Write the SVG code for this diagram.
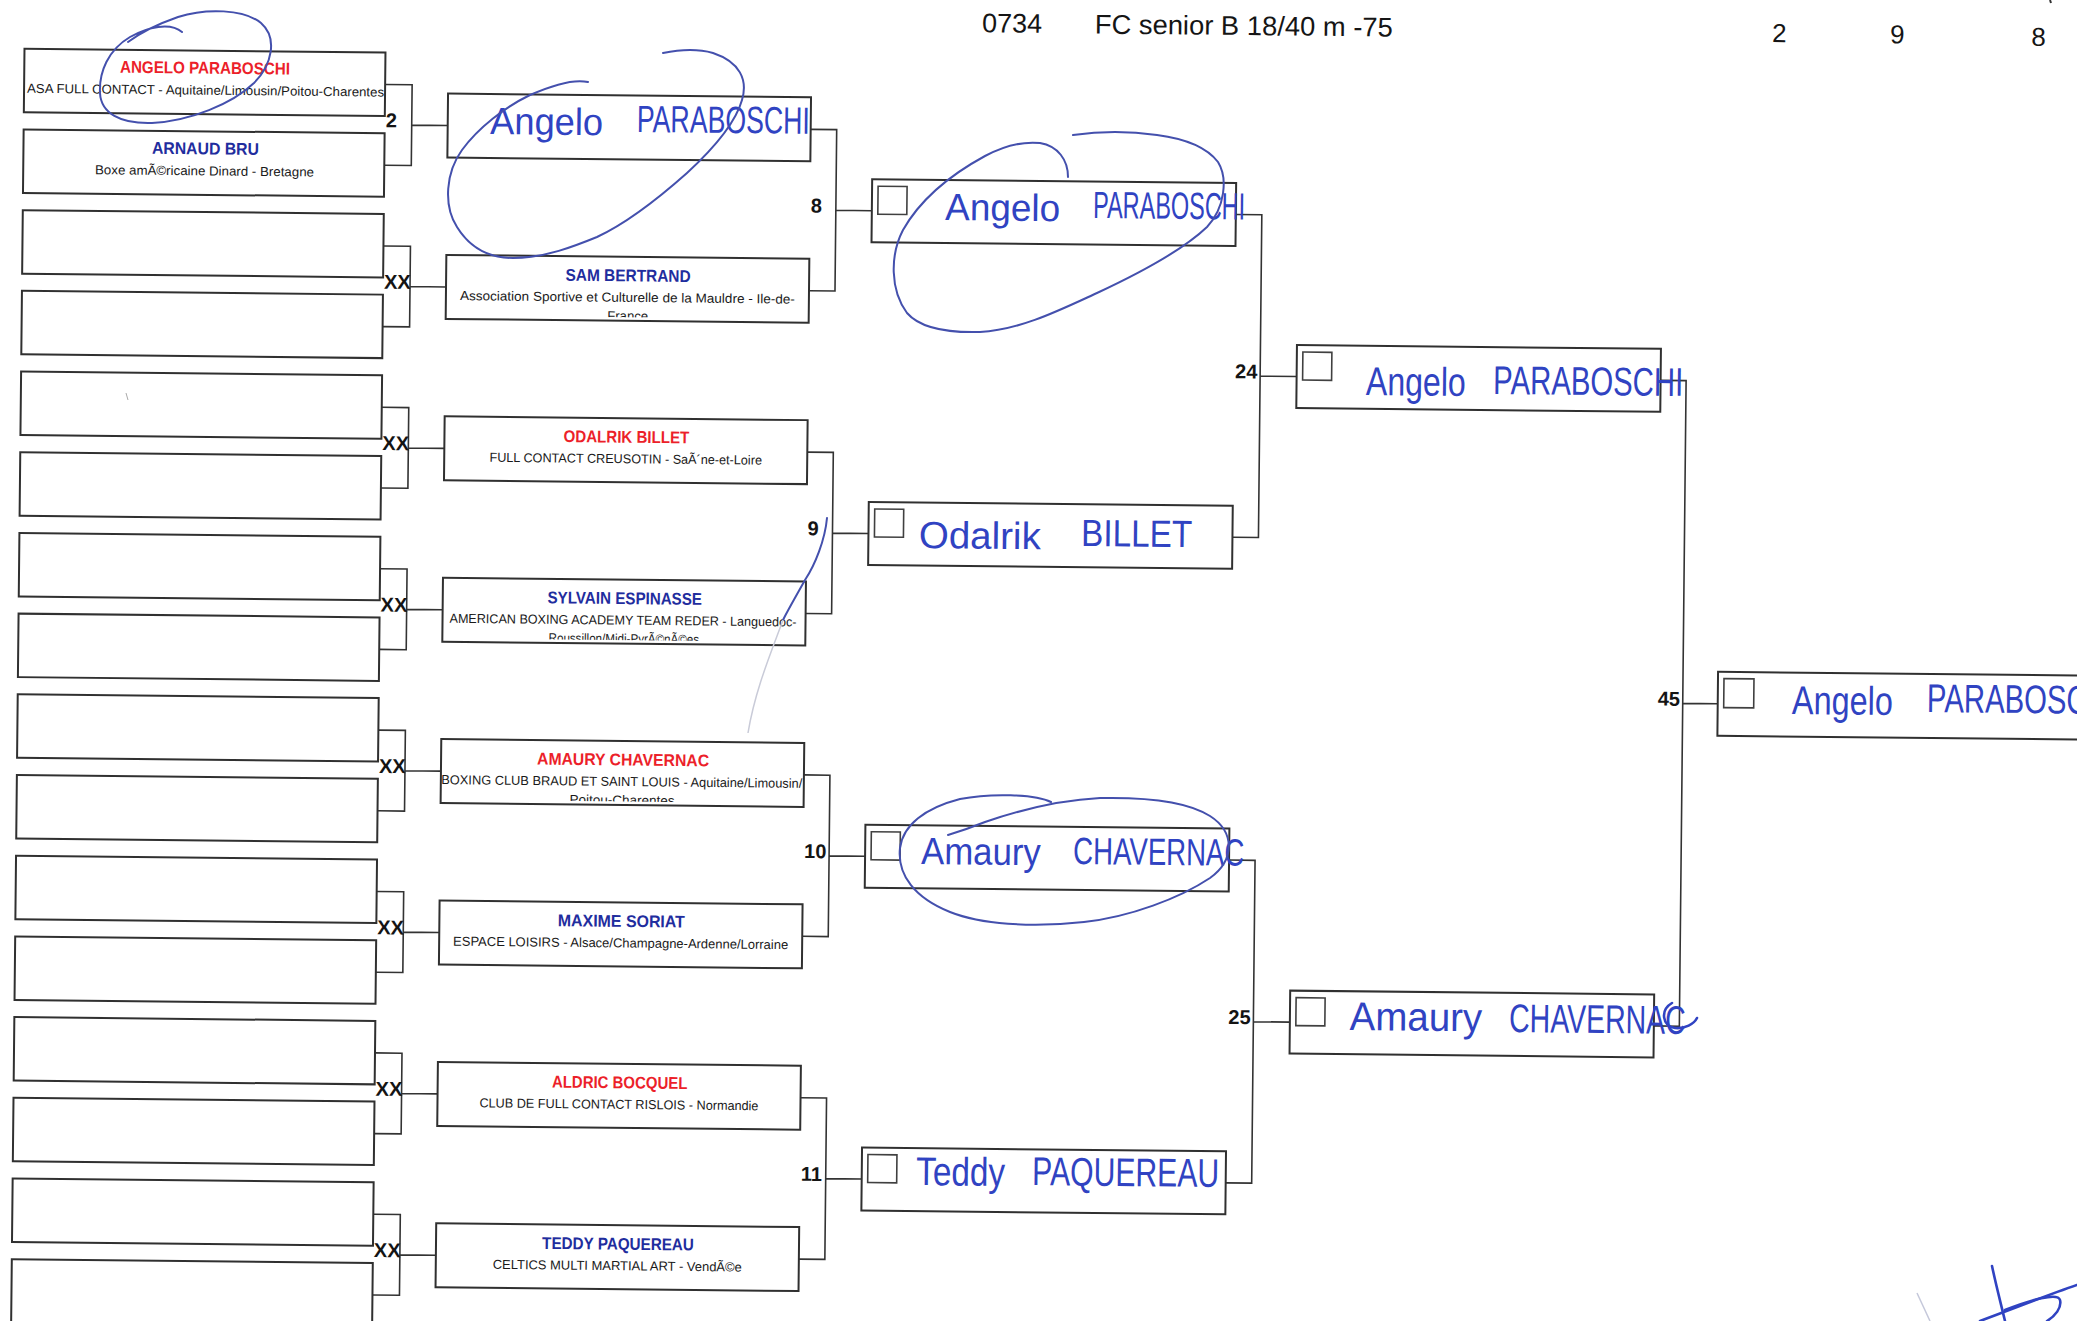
<svg xmlns="http://www.w3.org/2000/svg" width="2077" height="1321" viewBox="0 0 2077 1321">
<style>
.box{fill:#fff;stroke:#303030;stroke-width:2}
.chk{fill:none;stroke:#404040;stroke-width:1.6}
.conn{fill:none;stroke:#333;stroke-width:1.6}
.lbl{font-family:"Liberation Sans",Arial,sans-serif;font-weight:bold;font-size:20px;fill:#141414}
.nm{font-family:"Liberation Sans",Arial,sans-serif;font-weight:bold;font-size:17px}
.red{fill:#ec1f2a}
.blu{fill:#1f2d9e}
.club{font-family:"Liberation Sans",Arial,sans-serif;font-size:13px;fill:#1a1a1a}
.hw{font-family:"Liberation Sans",Arial,sans-serif;font-size:38px;fill:#3043c2}
.hwl{font-family:"Liberation Sans",Arial,sans-serif;font-size:40px;fill:#3043c2}
.ink{fill:none;stroke:#4450ad;stroke-width:2;stroke-linecap:round;stroke-linejoin:round}
.inkh{fill:none;stroke:#3043c2;stroke-width:2.6;stroke-linecap:round}
.hdr{font-family:"Liberation Sans",Arial,sans-serif;font-size:27px;fill:#151515}
</style>
<defs>
<clipPath id="cl2"><rect x="449" y="250.25" width="363" height="60.5"/></clipPath>
<clipPath id="cl4"><rect x="449" y="573.05" width="363" height="60.5"/></clipPath>
<clipPath id="cl5"><rect x="449" y="734.45" width="363" height="60.5"/></clipPath>
</defs>
<rect width="2077" height="1321" fill="#fff"/>
<g transform="rotate(0.6)">
<g id="header">
<text class="hdr" x="982.3" y="22" textLength="60" lengthAdjust="spacingAndGlyphs">0734</text>
<text class="hdr" x="1095" y="22" textLength="298" lengthAdjust="spacingAndGlyphs">FC senior B 18/40 m -75</text>
<text class="hdr" x="1772.4" y="23.5" style="font-size:26px">2</text>
<text class="hdr" x="1890.4" y="23.5" style="font-size:26px">9</text>
<text class="hdr" x="2031.5" y="24.5" style="font-size:26px">8</text>
</g>
<g id="connectors">
<path class="conn" d="M386,80.5H413V161.2H386M413,120.85H449"/>
<path class="conn" d="M386,241.9H413V322.6H386M413,282.25H449"/>
<path class="conn" d="M386,403.3H413V484H386M413,443.65H449"/>
<path class="conn" d="M386,564.7H413V645.4H386M413,605.05H449"/>
<path class="conn" d="M386,726.1H413V806.8H386M413,766.45H449"/>
<path class="conn" d="M386,887.5H413V968.2H386M413,927.85H449"/>
<path class="conn" d="M386,1048.9H413V1129.6H386M413,1089.25H449"/>
<path class="conn" d="M386,1210.3H413V1291H386M413,1250.65H449"/>
<path class="conn" d="M812,120.85H838V282.25H812M838,201.55H874"/>
<path class="conn" d="M812,443.65H838V605.05H812M838,524.35H874"/>
<path class="conn" d="M812,766.45H838V927.85H812M838,847.15H874"/>
<path class="conn" d="M812,1089.25H838V1250.65H812M838,1169.95H874"/>
<path class="conn" d="M1238,201.55H1264V524.35H1238M1264,362.95H1300.5"/>
<path class="conn" d="M1238,847.15H1264V1169.95H1238M1264,1008.55H1300.5"/>
<path class="conn" d="M1664,362.95H1690V1008.55H1664M1690,685.75H1725"/>
<text class="lbl" x="387" y="123.3">2</text>
<text class="lbl" x="387" y="284.7">XX</text>
<text class="lbl" x="387" y="446.1">XX</text>
<text class="lbl" x="387" y="607.5">XX</text>
<text class="lbl" x="387" y="768.9">XX</text>
<text class="lbl" x="387" y="930.3">XX</text>
<text class="lbl" x="387" y="1091.7">XX</text>
<text class="lbl" x="387" y="1253.1">XX</text>
<text class="lbl" x="813" y="204">8</text>
<text class="lbl" x="813" y="526.8">9</text>
<text class="lbl" x="813" y="849.6">10</text>
<text class="lbl" x="813" y="1172.4">11</text>
<text class="lbl" x="1239" y="365.4">24</text>
<text class="lbl" x="1239" y="1011">25</text>
<text class="lbl" x="1665" y="688.2">45</text>
</g>
<g id="r1-1"><rect class="box" x="25" y="48.5" width="361" height="63.5"/>
<text class="nm red" x="120.7" y="71.5" textLength="170" lengthAdjust="spacingAndGlyphs">ANGELO PARABOSCHI</text>
<text class="club" x="28" y="92.5" textLength="357" lengthAdjust="spacingAndGlyphs">ASA FULL CONTACT - Aquitaine/Limousin/Poitou-Charentes</text></g>
<g id="r1-2"><rect class="box" x="25" y="129.2" width="361" height="63.5"/>
<text class="nm blu" x="153.5" y="152.2" textLength="107" lengthAdjust="spacingAndGlyphs">ARNAUD BRU</text>
<text class="club" x="96.8" y="173.2" textLength="219" lengthAdjust="spacingAndGlyphs">Boxe amÃ©ricaine Dinard - Bretagne</text></g>
<g id="r1-3"><rect class="box" x="25" y="209.9" width="361" height="63.5"/></g>
<g id="r1-4"><rect class="box" x="25" y="290.6" width="361" height="63.5"/></g>
<g id="r1-5"><rect class="box" x="25" y="371.3" width="361" height="63.5"/></g>
<g id="r1-6"><rect class="box" x="25" y="452" width="361" height="63.5"/></g>
<g id="r1-7"><rect class="box" x="25" y="532.7" width="361" height="63.5"/></g>
<g id="r1-8"><rect class="box" x="25" y="613.4" width="361" height="63.5"/></g>
<g id="r1-9"><rect class="box" x="25" y="694.1" width="361" height="63.5"/></g>
<g id="r1-10"><rect class="box" x="25" y="774.8" width="361" height="63.5"/></g>
<g id="r1-11"><rect class="box" x="25" y="855.5" width="361" height="63.5"/></g>
<g id="r1-12"><rect class="box" x="25" y="936.2" width="361" height="63.5"/></g>
<g id="r1-13"><rect class="box" x="25" y="1016.9" width="361" height="63.5"/></g>
<g id="r1-14"><rect class="box" x="25" y="1097.6" width="361" height="63.5"/></g>
<g id="r1-15"><rect class="box" x="25" y="1178.3" width="361" height="63.5"/></g>
<g id="r1-16"><rect class="box" x="25" y="1259" width="361" height="63.5"/></g>
<g id="r2-1"><rect class="box" x="449" y="88.85" width="363" height="64"/>
<text class="hw" x="491.4" y="128.9" textLength="113" lengthAdjust="spacingAndGlyphs">Angelo</text>
<text class="hw" x="638.1" y="125.3" textLength="173" lengthAdjust="spacingAndGlyphs">PARABOSCHI</text></g>
<g id="r2-2"><rect class="box" x="449" y="250.25" width="363" height="64"/>
<text class="nm blu" x="568.5" y="274.75" textLength="125" lengthAdjust="spacingAndGlyphs">SAM BERTRAND</text>
<text class="club" x="463" y="295.25" textLength="335" lengthAdjust="spacingAndGlyphs">Association Sportive et Culturelle de la Mauldre - Ile-de-</text>
<text class="club" x="610.5" y="313.75" textLength="41" lengthAdjust="spacingAndGlyphs" clip-path="url(#cl2)">France</text></g>
<g id="r2-3"><rect class="box" x="449" y="411.65" width="363" height="64"/>
<text class="nm red" x="568.15" y="436.15" textLength="125.7" lengthAdjust="spacingAndGlyphs">ODALRIK BILLET</text>
<text class="club" x="494.25" y="456.65" textLength="272.5" lengthAdjust="spacingAndGlyphs">FULL CONTACT CREUSOTIN - SaÃ´ne-et-Loire</text></g>
<g id="r2-4"><rect class="box" x="449" y="573.05" width="363" height="64"/>
<text class="nm blu" x="553.75" y="597.55" textLength="154.5" lengthAdjust="spacingAndGlyphs">SYLVAIN ESPINASSE</text>
<text class="club" x="456" y="618.05" textLength="347" lengthAdjust="spacingAndGlyphs">AMERICAN BOXING ACADEMY TEAM REDER - Languedoc-</text>
<text class="club" x="555.25" y="636.55" textLength="150.5" lengthAdjust="spacingAndGlyphs" clip-path="url(#cl4)">Roussillon/Midi-PyrÃ©nÃ©es</text></g>
<g id="r2-5"><rect class="box" x="449" y="734.45" width="363" height="64"/>
<text class="nm red" x="545" y="758.95" textLength="172" lengthAdjust="spacingAndGlyphs">AMAURY CHAVERNAC</text>
<text class="club" x="449.5" y="779.45" textLength="361" lengthAdjust="spacingAndGlyphs">BOXING CLUB BRAUD ET SAINT LOUIS - Aquitaine/Limousin/</text>
<text class="club" x="578" y="797.95" textLength="105" lengthAdjust="spacingAndGlyphs" clip-path="url(#cl5)">Poitou-Charentes</text></g>
<g id="r2-6"><rect class="box" x="449" y="895.85" width="363" height="64"/>
<text class="nm blu" x="567.5" y="920.35" textLength="127" lengthAdjust="spacingAndGlyphs">MAXIME SORIAT</text>
<text class="club" x="463" y="940.85" textLength="335" lengthAdjust="spacingAndGlyphs">ESPACE LOISIRS - Alsace/Champagne-Ardenne/Lorraine</text></g>
<g id="r2-7"><rect class="box" x="449" y="1057.25" width="363" height="64"/>
<text class="nm red" x="563.25" y="1081.75" textLength="135.5" lengthAdjust="spacingAndGlyphs">ALDRIC BOCQUEL</text>
<text class="club" x="491" y="1102.25" textLength="279" lengthAdjust="spacingAndGlyphs">CLUB DE FULL CONTACT RISLOIS - Normandie</text></g>
<g id="r2-8"><rect class="box" x="449" y="1218.65" width="363" height="64"/>
<text class="nm blu" x="555.15" y="1243.15" textLength="151.7" lengthAdjust="spacingAndGlyphs">TEDDY PAQUEREAU</text>
<text class="club" x="506" y="1263.65" textLength="249" lengthAdjust="spacingAndGlyphs">CELTICS MULTI MARTIAL ART - VendÃ©e</text></g>
<g id="r3-1"><rect class="box" x="874" y="170.05" width="364" height="63"/><rect class="chk" x="880" y="177" width="29" height="28"/>
<text class="hw" x="947.3" y="210.1" textLength="115" lengthAdjust="spacingAndGlyphs">Angelo</text>
<text class="hw" x="1095.3" y="206.5" textLength="152" lengthAdjust="spacingAndGlyphs">PARABOSCHI</text></g>
<g id="r3-2"><rect class="box" x="874" y="492.85" width="364" height="63"/><rect class="chk" x="880" y="499.8" width="29" height="28"/>
<text class="hw" x="924.4" y="538.4" textLength="122" lengthAdjust="spacingAndGlyphs">Odalrik</text>
<text class="hw" x="1086.7" y="534.6" textLength="111" lengthAdjust="spacingAndGlyphs">BILLET</text></g>
<g id="r3-3"><rect class="box" x="874" y="815.65" width="364" height="63"/><rect class="chk" x="880" y="822.6" width="29" height="28"/>
<text class="hw" x="930.1" y="854.3" textLength="119.5" lengthAdjust="spacingAndGlyphs">Amaury</text>
<text class="hw" x="1082.1" y="852.7" textLength="171" lengthAdjust="spacingAndGlyphs">CHAVERNAC</text></g>
<g id="r3-4"><rect class="box" x="874" y="1138.45" width="364" height="63"/><rect class="chk" x="880" y="1145.4" width="29" height="28"/>
<text class="hwl" x="928.4" y="1175.4" textLength="89" lengthAdjust="spacingAndGlyphs">Teddy</text>
<text class="hwl" x="1044.4" y="1174.2" textLength="187" lengthAdjust="spacingAndGlyphs">PAQUEREAU</text></g>
<g id="r4-1"><rect class="box" x="1300.5" y="331.45" width="364" height="63"/><rect class="chk" x="1306.5" y="338.4" width="29" height="28"/>
<text class="hwl" x="1369.8" y="380.7" textLength="100" lengthAdjust="spacingAndGlyphs">Angelo</text>
<text class="hwl" x="1497.1" y="378.3" textLength="190" lengthAdjust="spacingAndGlyphs">PARABOSCHI</text></g>
<g id="r4-2"><rect class="box" x="1300.5" y="977.05" width="364" height="63"/><rect class="chk" x="1306.5" y="984" width="29" height="28"/>
<text class="hwl" x="1360.3" y="1015.8" textLength="132.5" lengthAdjust="spacingAndGlyphs">Amaury</text>
<text class="hwl" x="1519.8" y="1016.2" textLength="176.5" lengthAdjust="spacingAndGlyphs">CHAVERNAC</text></g>
<g id="r5-1"><rect class="box" x="1725" y="653.75" width="364" height="64"/><rect class="chk" x="1731" y="660.5" width="30" height="29"/>
<text class="hwl" x="1799.2" y="695.2" textLength="101" lengthAdjust="spacingAndGlyphs">Angelo</text>
<text class="hwl" x="1934.2" y="691.8" textLength="190" lengthAdjust="spacingAndGlyphs">PARABOSCHI</text></g>
</g>
<g id="ink">
<path class="ink" d="M182,32 C170,22 148,27 130,37 C108,50 99,72 100,93 C101,113 120,124 152,123 C190,121 232,104 254,83 C272,65 278,38 261,23 C244,9 206,8 178,17 C158,24 140,33 128,42"/>
<path class="ink" d="M588,82 C575,79 555,84 530,95 C505,107 478,128 462,150 C446,172 443,205 457,227 C470,248 490,258 513,258 C545,258 575,246 597,237 C625,224 660,197 687,173 C712,150 735,125 742,100 C748,80 740,62 713,53 C695,48 678,50 663,53"/>
<path class="ink" d="M1068,177 C1068,160 1058,146 1040,143 C1020,141 1000,148 985,156 C950,175 920,200 903,230 C890,255 890,290 907,313 C920,328 945,333 980,332 C1020,330 1060,310 1097,293 C1140,273 1185,248 1207,227 C1225,208 1228,178 1218,162 C1205,145 1180,138 1157,135 C1130,131 1100,131 1073,135"/>
<path class="ink" d="M1051,802 C1035,794 990,793 960,799 C925,808 903,825 900,848 C897,875 915,898 950,912 C980,924 1030,928 1084,922 C1130,917 1180,898 1210,878 C1235,860 1235,832 1210,816 C1190,803 1150,797 1100,798 C1060,800 1020,810 985,822 C970,828 958,832 948,835"/>
<path class="ink" d="M827,518 C825,540 815,565 805,580 C795,598 788,610 783,620"/>
<path d="M783,620 C772,650 755,690 748,733" fill="none" stroke="#c9cbd8" stroke-width="1.5"/>
<path class="inkh" d="M1672,1003 C1660,1010 1662,1026 1675,1028 C1685,1029 1694,1024 1697,1018"/>
<path d="M1917,1293 L1930,1321" fill="none" stroke="#c5c8da" stroke-width="1.5"/>
<path class="inkh" d="M1992,1266 C1996,1285 2000,1300 2005,1321"/>
<path class="inkh" d="M1980,1321 C2010,1310 2045,1296 2077,1285"/>
<path class="inkh" d="M2005,1310 C2030,1300 2058,1292 2060,1300 C2062,1308 2055,1316 2047,1321"/>
<path d="M2050,0 L2051,3" fill="none" stroke="#333" stroke-width="2"/>
<path d="M126,393 L128,400" fill="none" stroke="#aaa" stroke-width="1"/>
</g>
</svg>
